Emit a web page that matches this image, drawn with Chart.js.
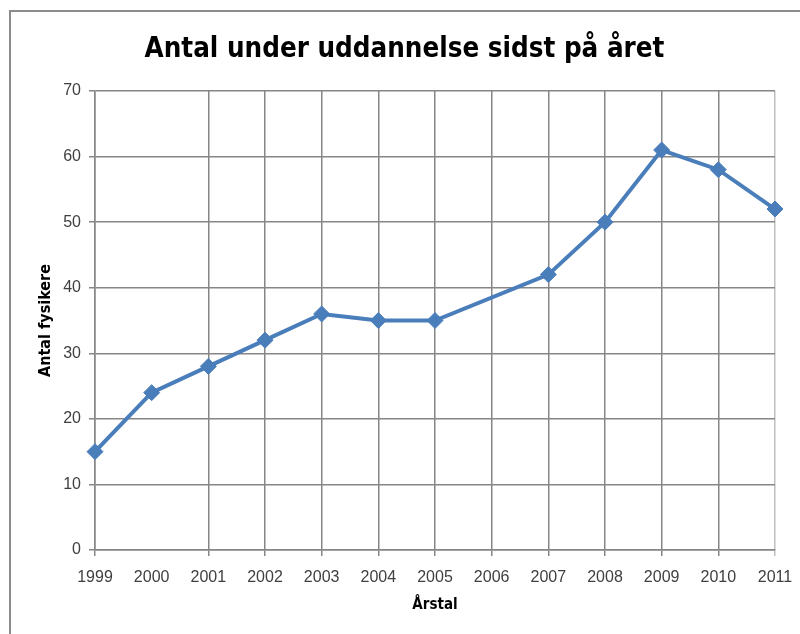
<!DOCTYPE html>
<html>
<head>
<meta charset="utf-8">
<script src="https://cdn.jsdelivr.net/npm/chart.js@4.4.0/dist/chart.umd.min.js"></script>
<style>
  html, body { margin: 0; padding: 0; background: #ffffff; }
  #wrap { position: relative; width: 800px; height: 634px; overflow: hidden; }
  #frame { position: absolute; left: 9px; top: 10px; width: 900px; height: 700px;
           border-top: 2px solid #8c8c8c; border-left: 2px solid #8c8c8c; box-sizing: border-box; pointer-events: none; }
  canvas { position: absolute; left: 0; top: 0; }
</style>
</head>
<body>
<div id="wrap">
  <div id="frame"></div>
  <canvas id="c" width="800" height="634"></canvas>
</div>
<script>
const years = ['1999','2000','2001','2002','2003','2004','2005','2006','2007','2008','2009','2010','2011'];
const antalFysikere = [15, 24, 28, 32, 36, 35, 35, null, 42, 50, 61, 58, 52];
const yTicks = [0, 10, 20, 30, 40, 50, 60, 70];

const titleText = 'Antal under uddannelse sidst på året';
const xTitle = 'Årstal';
const yTitle = 'Antal fysikere';

const gridGray = '#868686';
const condensed = '"DejaVu Sans Condensed", "Liberation Sans", sans-serif';

new Chart(document.getElementById('c'), {
  type: 'line',
  data: {
    labels: years,
    datasets: [{
      label: 'Antal',
      data: antalFysikere,
      borderColor: '#4a7ebb',
      backgroundColor: '#4a7ebb',
      borderWidth: 4,
      pointStyle: 'rectRot',
      pointRadius: 8,
      pointHoverRadius: 8,
      pointBackgroundColor: '#4a7ebb',
      pointBorderColor: '#4a7ebb',
      pointBorderWidth: 1,
      spanGaps: true,
      tension: 0
    }]
  },
  options: {
    responsive: false,
    animation: false,
    layout: { padding: { left: 34, right: 25, top: 0, bottom: 16 } },
    plugins: {
      legend: { display: false },
      tooltip: { enabled: false },
      title: {
        display: true,
        text: titleText,
        color: '#000000',
        font: { family: condensed, size: 27.5, weight: 'bold', lineHeight: 1.2 },
        padding: { top: 33, bottom: 25 }
      }
    },
    scales: {
      x: {
        type: 'category',
        offset: false,
        afterFit: (scale) => { scale.height = 68; scale.paddingRight = 0; scale.paddingLeft = 0; },
        grid: {
          color: (ctx) => ctx.index === 1 ? 'rgba(0,0,0,0)' : (ctx.index === years.length - 1 ? '#c0c0c0' : gridGray),
          tickColor: (ctx) => ctx.index === 1 ? 'rgba(0,0,0,0)' : (ctx.index === years.length - 1 ? '#c0c0c0' : gridGray),
          lineWidth: 1.5,
          tickLength: 6,
          drawTicks: true
        },
        border: { display: true, color: gridGray, width: 1.5 },
        ticks: {
          color: '#404040',
          font: { family: '"Liberation Sans", sans-serif', size: 16 },
          padding: 12,
          maxRotation: 0,
          autoSkip: false
        },
        title: {
          display: true,
          text: xTitle,
          color: '#000000',
          font: { family: condensed, size: 15, weight: 'bold' },
          padding: { top: 0, bottom: 4 }
        }
      },
      y: {
        min: 0,
        max: 70,
        afterBuildTicks: (scale) => { scale.ticks = yTicks.map(v => ({ value: v })); },
        afterFit: (scale) => { scale.width = 61; },
        grid: { color: gridGray, tickColor: gridGray, lineWidth: 1.5, tickLength: 6 },
        border: { display: true, color: gridGray, width: 1.5 },
        ticks: {
          color: '#404040',
          font: { family: '"Liberation Sans", sans-serif', size: 16 },
          padding: 8
        },
        title: {
          display: true,
          text: yTitle,
          color: '#000000',
          font: { family: condensed, size: 16, weight: 'bold' },
          padding: { top: 2, bottom: 4 }
        }
      }
    }
  }
});
</script>
</body>
</html>
